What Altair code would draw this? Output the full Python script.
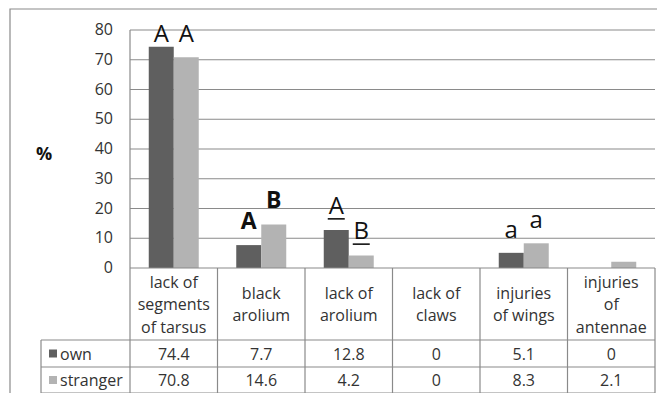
import altair as alt
import pandas as pd

categories = ["lack of segments of tarsus", "black arolium", "lack of arolium",
              "lack of claws", "injuries of wings", "injuries of antennae"]
header_labels = ["lack of\nsegments\nof tarsus", "black\narolium", "lack of\narolium",
                 "lack of\nclaws", "injuries\nof wings", "injuries\nof\nantennae"]
series = ["own", "stranger"]
own = [74.4, 7.7, 12.8, 0, 5.1, 0]
stranger = [70.8, 14.6, 4.2, 0, 8.3, 2.1]
colors = ["#5f5f5f", "#b3b3b3"]
y_ticks = [0, 10, 20, 30, 40, 50, 60, 70, 80]

# significance letters above the bars
sig_category = [categories[0], categories[0], categories[1], categories[1],
                categories[2], categories[2], categories[4], categories[4]]
sig_series = ["own", "stranger"] * 4
sig_text = ["A", "A", "A", "B", "A", "B", "a", "a"]
sig_bold = [False, False, True, True, False, False, False, False]
sig_underline = [False, False, False, False, True, True, False, False]
sig_height = [76.1, 76.1, 13.1, 20.2, 18.2, 9.7, 10.1, 13.4]

FONT = "Open Sans"
TXT = "#333333"
INK = "#111111"
LINE = "#8a8a8a"

W, H = 525, 238
BAR = 25 / 87.5            # bar width as a fraction of one category slot
START = (1 - 2 * BAR) / 2  # gap before the first bar in a slot
PX = 80 / H                # data units per pixel
LH = 22.5                  # header line height

bars = pd.DataFrame({
    "category": categories * 2,
    "series": ["own"] * 6 + ["stranger"] * 6,
    "value": own + stranger,
})
bars["idx"] = [categories.index(c) for c in bars["category"]]
bars["label"] = [f"{v:g}" for v in bars["value"]]

sig = pd.DataFrame({
    "category": sig_category, "series": sig_series, "text": sig_text,
    "bold": sig_bold, "underline": sig_underline, "h": sig_height,
})
sig["idx"] = [categories.index(c) for c in sig["category"]]
header = pd.DataFrame({"category": categories, "label": header_labels})
header["idx"] = list(range(len(categories)))
header["nlines"] = [len(t.split("\n")) for t in header_labels]
bounds = pd.DataFrame({"b": list(range(len(categories) + 1))})
ticks = pd.DataFrame({"t": y_ticks})
one = pd.DataFrame({"k": [0]})
rows = pd.DataFrame({"series": series})

x_scale = alt.Scale(domain=[0, len(categories)], nice=False, zero=False)
y_scale = alt.Scale(domain=[0, 80], nice=False)
off_expr = f"datum.idx + {START} + (datum.series == 'own' ? 0 : {BAR})"
color_enc = alt.Color("series:N", scale=alt.Scale(domain=series, range=colors), legend=None)

frame = alt.Chart(one).mark_rect(fill="transparent", stroke=LINE, strokeWidth=1.2).encode(
    x=alt.value(-120), x2=alt.value(700), y=alt.value(-21), y2=alt.value(500))

# value axis drawn from the tick list
grid = alt.Chart(ticks).transform_filter("datum.t > 0").mark_rule(
    color=LINE, strokeWidth=1.2).encode(
    x=alt.value(0), x2=alt.value(W), y=alt.Y("t:Q", scale=y_scale, axis=None))
ydomain = alt.Chart(one).mark_rule(color=LINE, strokeWidth=1.2).encode(
    x=alt.value(0), y=alt.value(0), y2=alt.value(H))
ylabels = alt.Chart(ticks).mark_text(
    font=FONT, fontSize=16, align="right", baseline="middle", color=TXT, dx=-17).encode(
    x=alt.value(0), y=alt.Y("t:Q", scale=y_scale, axis=None), text="t:Q")

bar_layer = alt.Chart(bars).transform_calculate(
    x1=off_expr, x2=f"{off_expr} + {BAR}").mark_rect().encode(
    x=alt.X("x1:Q", scale=x_scale, axis=None), x2="x2:Q",
    y=alt.Y("value:Q", scale=y_scale, axis=None),
    y2=alt.datum(0),
    color=color_enc,
)

sig_base = alt.Chart(sig).transform_calculate(xc=f"{off_expr} + {BAR / 2}")
sig_regular = sig_base.transform_filter("!datum.bold").mark_text(
    font=FONT, fontSize=24, baseline="alphabetic", align="center", color=INK).encode(
    x=alt.X("xc:Q", scale=x_scale, axis=None),
    y=alt.Y("h:Q", scale=y_scale, axis=None), text="text:N")
sig_boldl = sig_base.transform_filter("datum.bold").mark_text(
    font=FONT, fontSize=23, fontWeight="bold", baseline="alphabetic", align="center",
    color=INK).encode(
    x=alt.X("xc:Q", scale=x_scale, axis=None),
    y=alt.Y("h:Q", scale=y_scale, axis=None), text="text:N")
UW = 17 / 87.5
sig_under = sig_base.transform_filter("datum.underline").transform_calculate(
    ux1=f"datum.xc - {UW / 2}", ux2=f"datum.xc + {UW / 2}",
    u1=f"datum.h - {5.8 * PX}", u2=f"datum.h - {4.2 * PX}").mark_rect(
    color=INK).encode(
    x=alt.X("ux1:Q", scale=x_scale, axis=None), x2="ux2:Q",
    y=alt.Y("u1:Q", scale=y_scale, axis=None), y2="u2:Q")

pct = alt.Chart(one).mark_text(font=FONT, fontSize=18, fontWeight="bold", color=INK).encode(
    x=alt.value(-86), y=alt.value(125), text=alt.value("%"))

# data table under the plot
TOP, HB, R1, R2, LEFT = H, 310, 337, 363, -89
vlines = alt.Chart(bounds).mark_rule(color=LINE, strokeWidth=1.2).encode(
    x=alt.X("b:Q", scale=x_scale, axis=None), y=alt.value(TOP), y2=alt.value(R2))
vleft = alt.Chart(one).mark_rule(color=LINE, strokeWidth=1.2).encode(
    x=alt.value(LEFT), y=alt.value(HB), y2=alt.value(R2))
htop = alt.Chart(one).mark_rule(color=LINE, strokeWidth=1.2).encode(
    x=alt.value(0), x2=alt.value(W), y=alt.value(TOP))
hlines = [alt.Chart(one).mark_rule(color=LINE, strokeWidth=1.2).encode(
    x=alt.value(LEFT), x2=alt.value(W), y=alt.value(yy)) for yy in (HB, R1, R2)]

head_layers = []
for n in sorted(set(header["nlines"])):
    head_layers.append(alt.Chart(header).transform_filter(f"datum.nlines == {n}")
                       .transform_calculate(xc="datum.idx + 0.5").mark_text(
        font=FONT, fontSize=16, lineBreak="\n", lineHeight=LH, baseline="middle",
        color=TXT).encode(x=alt.X("xc:Q", scale=x_scale, axis=None),
                          y=alt.value((TOP + HB) / 2 - (n - 1) * LH / 2 + 1),
                          text="label:N"))

row_y = {"own": (HB + R1) / 2, "stranger": (R1 + R2) / 2}
val_layers = []
for s in series:
    val_layers.append(alt.Chart(bars).transform_filter(f"datum.series == '{s}'")
                      .transform_calculate(xc="datum.idx + 0.5").mark_text(
        font=FONT, fontSize=16, baseline="middle", color=TXT).encode(
        x=alt.X("xc:Q", scale=x_scale, axis=None), y=alt.value(row_y[s] + 1),
        text="label:N"))
    val_layers.append(alt.Chart(rows).transform_filter(f"datum.series == '{s}'").mark_square(
        size=64, opacity=1).encode(
        x=alt.value(-77), y=alt.value(row_y[s]), color=color_enc))
    val_layers.append(alt.Chart(rows).transform_filter(f"datum.series == '{s}'").mark_text(
        font=FONT, fontSize=16, baseline="middle", align="left", color=TXT).encode(
        x=alt.value(-70), y=alt.value(row_y[s] + 1), text="series:N"))

chart = alt.layer(
    frame, grid, ydomain, ylabels, bar_layer, htop, vlines, vleft, *hlines,
    *head_layers, *val_layers, sig_regular, sig_boldl, sig_under, pct,
).properties(
    width=W, height=H,
    autosize=alt.AutoSizeParams(type="none"),
    padding={"left": 122, "top": 22, "right": 2, "bottom": 125},
).configure_view(strokeWidth=0)

chart.save("out.html", embed_options={"renderer": "svg", "actions": False})
